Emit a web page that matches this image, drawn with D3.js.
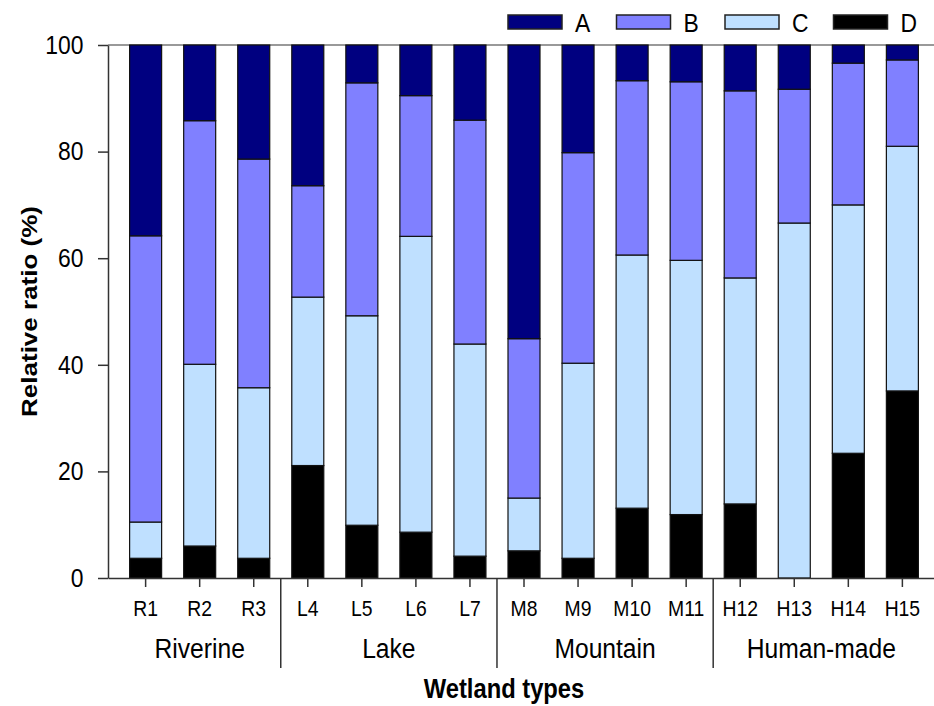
<!DOCTYPE html>
<html>
<head>
<meta charset="utf-8">
<script src="https://cdn.jsdelivr.net/npm/d3@7"></script>
<style>
  body { margin: 0; background: #fff; }
  text { font-family: "Liberation Sans", Arial, sans-serif; fill: #000; }
</style>
</head>
<body>
<div id="chart"></div>
<script>
// data (percent of each class per site)
var sites = ["R1","R2","R3","L4","L5","L6","L7","M8","M9","M10","M11","H12","H13","H14","H15"];
var groups = ["Riverine","Lake","Mountain","Human-made"];
var groupSites = [["R1","R2","R3"],["L4","L5","L6","L7"],["M8","M9","M10","M11"],["H12","H13","H14","H15"]];
var keys = ["D","C","B","A"];   // bottom to top
var legendKeys = ["A","B","C","D"];
var valA = [35.8,14.2,21.4,26.4, 7.1, 9.5,14.1,55.1,20.2, 6.7, 6.9, 8.6, 8.3, 3.4, 2.8];
var valB = [53.7,45.7,42.9,20.9,43.7,26.4,42.0,29.9,39.5,32.7,33.5,35.1,25.1,26.6,16.2];
var valC = [ 6.8,34.1,32.0,31.6,39.3,55.5,39.8, 9.9,36.6,47.5,47.7,42.4,66.6,46.6,45.9];
var valD = [ 3.7, 6.0, 3.7,21.1, 9.9, 8.6, 4.1, 5.1, 3.7,13.1,11.9,13.9, 0.0,23.4,35.1];
var yTicks = [0,20,40,60,80,100];

var colors = {A: "#000080", B: "#8080ff", C: "#bfe0ff", D: "#000000"};
var squeeze = "scale(0.88,1)";   // text in the figure is a bit condensed

var width = 934, height = 706;
var svg = d3.select("#chart").append("svg")
    .attr("width", width)
    .attr("height", height);

var table = sites.map(function(s, i) {
  return {site: s, A: valA[i], B: valB[i], C: valC[i], D: valD[i]};
});
var stacked = d3.stack().keys(keys)(table);

var x = d3.scaleBand()
    .domain(sites)
    .range([108, 940])
    .paddingInner(0.408)
    .paddingOuter(0.4);

var y = d3.scaleLinear()
    .domain([0, 100])
    .range([578, 45]);

// top frame line
svg.append("line")
    .attr("x1", x.range()[0]).attr("x2", x.range()[1])
    .attr("y1", y(100)).attr("y2", y(100))
    .attr("stroke", "#777").attr("stroke-width", 1.5);

// bars
svg.append("g")
  .selectAll("g")
  .data(stacked)
  .enter().append("g")
    .attr("fill", function(d) { return colors[d.key]; })
  .selectAll("rect")
  .data(function(d) { return d; })
  .enter().append("rect")
    .attr("x", function(d) { return x(d.data.site); })
    .attr("y", function(d) { return y(d[1]); })
    .attr("width", x.bandwidth())
    .attr("height", function(d) { return y(d[0]) - y(d[1]); })
    .attr("stroke", "#111")
    .attr("stroke-width", 1.2);

// x axis
var xAxis = svg.append("g")
    .attr("transform", "translate(0," + y(0) + ")")
    .call(d3.axisBottom(x).tickSize(9).tickSizeOuter(0).tickPadding(13));
xAxis.selectAll("text")
    .style("font-size", "22px")
    .attr("transform", squeeze);

// y axis
var yAxis = svg.append("g")
    .attr("transform", "translate(" + x.range()[0] + ",0)")
    .call(d3.axisLeft(y).tickValues(yTicks).tickSize(10).tickSizeOuter(0).tickPadding(18));
yAxis.selectAll("text")
    .style("font-size", "26px")
    .attr("transform", squeeze);

[xAxis, yAxis].forEach(function(a) {
  a.selectAll("path, line").attr("stroke", "#333").attr("stroke-width", 1.5);
});

// group separators and group labels
var gap = (x.step() - x.bandwidth()) / 2;
groupSites.forEach(function(list, i) {
  var first = x(list[0]), last = x(list[list.length - 1]) + x.bandwidth();
  if (i > 0) {
    svg.append("line")
        .attr("x1", first - gap).attr("x2", first - gap)
        .attr("y1", y(0)).attr("y2", 668)
        .attr("stroke", "#333").attr("stroke-width", 1.5);
  }
  svg.append("text")
      .attr("transform", "translate(" + ((first + last) / 2) + ",658) " + squeeze)
      .attr("text-anchor", "middle")
      .style("font-size", "28px")
      .text(groups[i]);
});

// axis titles
svg.append("text")
    .attr("transform", "translate(504,698) " + squeeze)
    .attr("text-anchor", "middle")
    .style("font-size", "27px")
    .style("font-weight", "bold")
    .text("Wetland types");

svg.append("text")
    .attr("transform", "translate(37," + ((y(0) + y(100)) / 2) + ") " + squeeze + " rotate(-90)")
    .attr("text-anchor", "middle")
    .style("font-size", "26px")
    .style("font-weight", "bold")
    .text("Relative ratio (%)");

// legend
var legend = svg.append("g")
  .selectAll("g")
  .data(legendKeys)
  .enter().append("g")
    .attr("transform", function(d, i) { return "translate(" + (508 + i * 108.5) + ",15)"; });
legend.append("rect")
    .attr("width", 54).attr("height", 14)
    .attr("fill", function(d) { return colors[d]; })
    .attr("stroke", "#222").attr("stroke-width", 1.5);
legend.append("text")
    .attr("transform", "translate(67,17) " + squeeze)
    .style("font-size", "26px")
    .text(function(d) { return d; });
</script>
</body>
</html>
